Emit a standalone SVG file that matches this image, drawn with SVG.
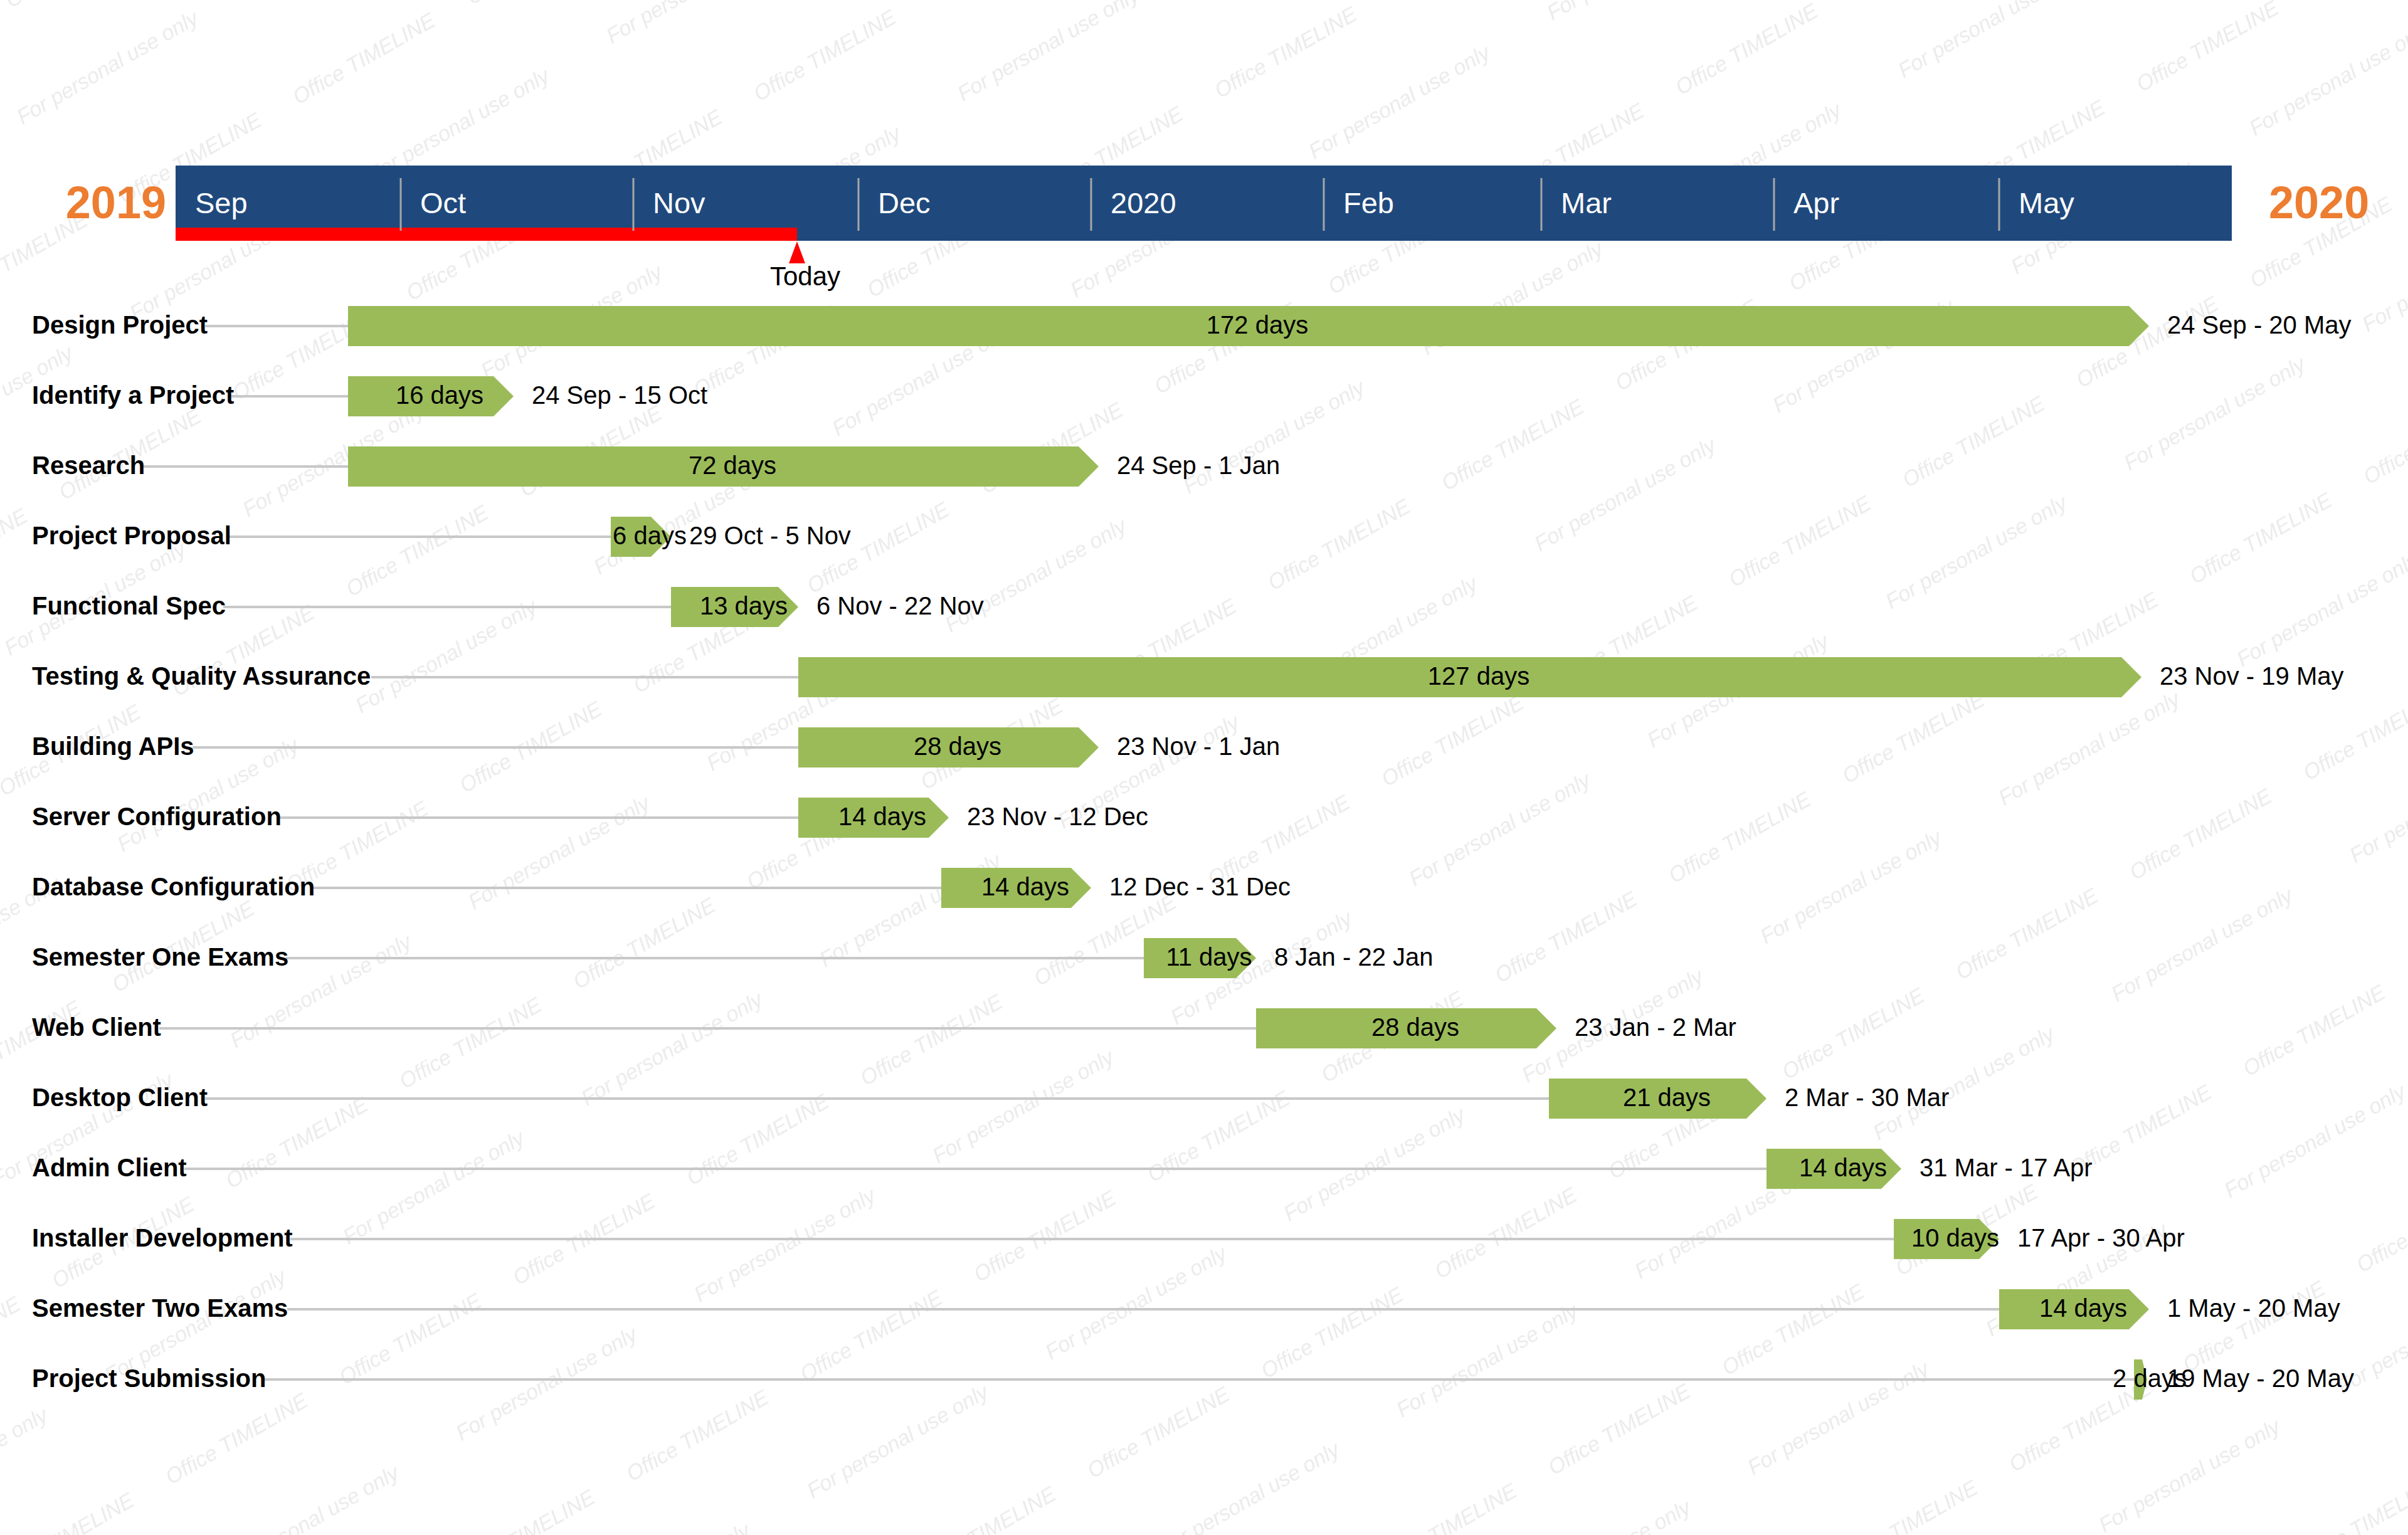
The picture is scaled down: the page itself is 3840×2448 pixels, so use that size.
<svg xmlns="http://www.w3.org/2000/svg" xmlns:xlink="http://www.w3.org/1999/xlink" width="3840" height="2448" viewBox="0 0 3840 2448">
<style>
.lbl{font-family:"Liberation Sans",Arial,sans-serif;font-weight:bold;font-size:40px;fill:#000}
.dur{font-family:"Liberation Sans",Arial,sans-serif;font-size:40px;fill:#000;text-anchor:middle}
.date{font-family:"Liberation Sans",Arial,sans-serif;font-size:40px;fill:#000}
.bar{fill:#9bbb59}
.conn{stroke:#c8c8c8;stroke-width:4}
.mon{font-family:"Liberation Sans",Arial,sans-serif;font-size:47px;fill:#fff}
.yr{font-family:"Liberation Sans",Arial,sans-serif;font-weight:bold;font-size:72px;fill:#ed7d31}
.sep{stroke:#a6a6a6;stroke-width:3}
.wm{font-family:"Liberation Sans",Arial,sans-serif;font-style:italic;font-size:34px;fill:#ebebeb;text-anchor:middle}
</style>
<defs>
<text id="wmA" class="wm" transform="rotate(-30)" y="12">Office TIMELINE</text>
<text id="wmB" class="wm" transform="rotate(-30)" y="12">For personal use only</text>
<pattern id="wmOffice" patternUnits="userSpaceOnUse" x="0" y="0" width="1000" height="1000" patternTransform="matrix(0.458 0.154 0.181 0.313 0 0)">
<g transform="matrix(2.7104 -1.3336 -1.5674 3.9661 0 0)">
<use href="#wmA" x="-336" y="-215"/><use href="#wmA" x="-155" y="98"/><use href="#wmA" x="26" y="411"/>
<use href="#wmA" x="122" y="-61"/><use href="#wmA" x="303" y="252"/><use href="#wmA" x="484" y="565"/>
<use href="#wmA" x="580" y="93"/><use href="#wmA" x="761" y="406"/><use href="#wmA" x="942" y="719"/>
</g>
</pattern>
<pattern id="wmPersonal" patternUnits="userSpaceOnUse" x="0" y="0" width="1000" height="1000" patternTransform="matrix(0.560 0.092 0.180 0.313 0 0)">
<g transform="matrix(1.97203 -0.57964 -1.13407 3.52823 0 0)">
<use href="#wmB" x="-569" y="-298"/><use href="#wmB" x="-389" y="15"/><use href="#wmB" x="-209" y="328"/>
<use href="#wmB" x="-9" y="-206"/><use href="#wmB" x="171" y="107"/><use href="#wmB" x="351" y="420"/>
<use href="#wmB" x="551" y="-114"/><use href="#wmB" x="731" y="199"/><use href="#wmB" x="911" y="512"/>
</g>
</pattern>
</defs>
<rect width="3840" height="2448" fill="#fff"/>
<g id="watermark">
<rect width="3840" height="2448" fill="url(#wmOffice)"/>
<rect width="3840" height="2448" fill="url(#wmPersonal)"/>
</g>

<g id="timescale">
<rect x="280" y="264" width="3279" height="120" fill="#1f497d"/>
<rect x="280" y="363" width="991" height="21" fill="#ff0000"/>
<line class="sep" x1="639" y1="284" x2="639" y2="368"/>
<line class="sep" x1="1010" y1="284" x2="1010" y2="368"/>
<line class="sep" x1="1369" y1="284" x2="1369" y2="368"/>
<line class="sep" x1="1740" y1="284" x2="1740" y2="368"/>
<line class="sep" x1="2111" y1="284" x2="2111" y2="368"/>
<line class="sep" x1="2458" y1="284" x2="2458" y2="368"/>
<line class="sep" x1="2829" y1="284" x2="2829" y2="368"/>
<line class="sep" x1="3188" y1="284" x2="3188" y2="368"/>
<text class="mon" x="311" y="340">Sep</text>
<text class="mon" x="670" y="340">Oct</text>
<text class="mon" x="1041" y="340">Nov</text>
<text class="mon" x="1400" y="340">Dec</text>
<text class="mon" x="1771" y="340">2020</text>
<text class="mon" x="2142" y="340">Feb</text>
<text class="mon" x="2489" y="340">Mar</text>
<text class="mon" x="2860" y="340">Apr</text>
<text class="mon" x="3219" y="340">May</text>
<text class="yr" x="265" y="348" text-anchor="end">2019</text>
<text class="yr" x="3618" y="348">2020</text>
</g>

<g id="today">
<polygon points="1271,385 1258,420 1284,420" fill="#ff0000"/>
<text x="1284" y="455" text-anchor="middle" font-family="Liberation Sans, Arial, sans-serif" font-size="42" fill="#000">Today</text>
</g>

<g id="connectors">
<line class="conn" x1="327" y1="520" x2="555" y2="520"/>
<line class="conn" x1="369" y1="632" x2="555" y2="632"/>
<line class="conn" x1="227" y1="744" x2="555" y2="744"/>
<line class="conn" x1="365" y1="856" x2="974" y2="856"/>
<line class="conn" x1="356" y1="968" x2="1070" y2="968"/>
<line class="conn" x1="592" y1="1080" x2="1273" y2="1080"/>
<line class="conn" x1="307" y1="1192" x2="1273" y2="1192"/>
<line class="conn" x1="445" y1="1304" x2="1273" y2="1304"/>
<line class="conn" x1="498" y1="1416" x2="1501" y2="1416"/>
<line class="conn" x1="456" y1="1528" x2="1824" y2="1528"/>
<line class="conn" x1="254" y1="1640" x2="2003" y2="1640"/>
<line class="conn" x1="327" y1="1752" x2="2470" y2="1752"/>
<line class="conn" x1="294" y1="1864" x2="2817" y2="1864"/>
<line class="conn" x1="463" y1="1976" x2="3020" y2="1976"/>
<line class="conn" x1="458" y1="2088" x2="3188" y2="2088"/>
<line class="conn" x1="420" y1="2200" x2="3403" y2="2200"/>
</g>

<g id="design-project">
<text class="lbl" x="51" y="532">Design Project</text>
<polygon class="bar" points="555,488 3395,488 3427,520 3395,552 555,552"/>
<text class="dur" x="2005" y="532">172 days</text>
<text class="date" x="3456" y="532">24 Sep - 20 May</text>
</g>
<g id="identify-a-project">
<text class="lbl" x="51" y="644">Identify a Project</text>
<polygon class="bar" points="555,600 787,600 819,632 787,664 555,664"/>
<text class="dur" x="701" y="644">16 days</text>
<text class="date" x="848" y="644">24 Sep - 15 Oct</text>
</g>
<g id="research">
<text class="lbl" x="51" y="756">Research</text>
<polygon class="bar" points="555,712 1720,712 1752,744 1720,776 555,776"/>
<text class="dur" x="1168" y="756">72 days</text>
<text class="date" x="1781" y="756">24 Sep - 1 Jan</text>
</g>
<g id="project-proposal">
<text class="lbl" x="51" y="868">Project Proposal</text>
<polygon class="bar" points="974,824 1038,824 1070,856 1038,888 974,888"/>
<text class="dur" x="1036" y="868">6 days</text>
<text class="date" x="1099" y="868">29 Oct - 5 Nov</text>
</g>
<g id="functional-spec">
<text class="lbl" x="51" y="980">Functional Spec</text>
<polygon class="bar" points="1070,936 1241,936 1273,968 1241,1000 1070,1000"/>
<text class="dur" x="1186" y="980">13 days</text>
<text class="date" x="1302" y="980">6 Nov - 22 Nov</text>
</g>
<g id="testing-qa">
<text class="lbl" x="51" y="1092">Testing &amp; Quality Assurance</text>
<polygon class="bar" points="1273,1048 3383,1048 3415,1080 3383,1112 1273,1112"/>
<text class="dur" x="2358" y="1092">127 days</text>
<text class="date" x="3444" y="1092">23 Nov - 19 May</text>
</g>
<g id="building-apis">
<text class="lbl" x="51" y="1204">Building APIs</text>
<polygon class="bar" points="1273,1160 1720,1160 1752,1192 1720,1224 1273,1224"/>
<text class="dur" x="1527" y="1204">28 days</text>
<text class="date" x="1781" y="1204">23 Nov - 1 Jan</text>
</g>
<g id="server-configuration">
<text class="lbl" x="51" y="1316">Server Configuration</text>
<polygon class="bar" points="1273,1272 1481,1272 1513,1304 1481,1336 1273,1336"/>
<text class="dur" x="1407" y="1316">14 days</text>
<text class="date" x="1542" y="1316">23 Nov - 12 Dec</text>
</g>
<g id="database-configuration">
<text class="lbl" x="51" y="1428">Database Configuration</text>
<polygon class="bar" points="1501,1384 1708,1384 1740,1416 1708,1448 1501,1448"/>
<text class="dur" x="1635" y="1428">14 days</text>
<text class="date" x="1769" y="1428">12 Dec - 31 Dec</text>
</g>
<g id="semester-one-exams">
<text class="lbl" x="51" y="1540">Semester One Exams</text>
<polygon class="bar" points="1824,1496 1971,1496 2003,1528 1971,1560 1824,1560"/>
<text class="dur" x="1928" y="1540">11 days</text>
<text class="date" x="2032" y="1540">8 Jan - 22 Jan</text>
</g>
<g id="web-client">
<text class="lbl" x="51" y="1652">Web Client</text>
<polygon class="bar" points="2003,1608 2450,1608 2482,1640 2450,1672 2003,1672"/>
<text class="dur" x="2257" y="1652">28 days</text>
<text class="date" x="2511" y="1652">23 Jan - 2 Mar</text>
</g>
<g id="desktop-client">
<text class="lbl" x="51" y="1764">Desktop Client</text>
<polygon class="bar" points="2470,1720 2785,1720 2817,1752 2785,1784 2470,1784"/>
<text class="dur" x="2658" y="1764">21 days</text>
<text class="date" x="2846" y="1764">2 Mar - 30 Mar</text>
</g>
<g id="admin-client">
<text class="lbl" x="51" y="1876">Admin Client</text>
<polygon class="bar" points="2817,1832 3000,1832 3032,1864 3000,1896 2817,1896"/>
<text class="dur" x="2939" y="1876">14 days</text>
<text class="date" x="3061" y="1876">31 Mar - 17 Apr</text>
</g>
<g id="installer-development">
<text class="lbl" x="51" y="1988">Installer Development</text>
<polygon class="bar" points="3020,1944 3156,1944 3188,1976 3156,2008 3020,2008"/>
<text class="dur" x="3118" y="1988">10 days</text>
<text class="date" x="3217" y="1988">17 Apr - 30 Apr</text>
</g>
<g id="semester-two-exams">
<text class="lbl" x="51" y="2100">Semester Two Exams</text>
<polygon class="bar" points="3188,2056 3395,2056 3427,2088 3395,2120 3188,2120"/>
<text class="dur" x="3322" y="2100">14 days</text>
<text class="date" x="3456" y="2100">1 May - 20 May</text>
</g>
<g id="project-submission">
<text class="lbl" x="51" y="2212">Project Submission</text>
<polygon class="bar" points="3403,2168 3416,2168 3424,2200 3416,2232 3403,2232"/>
<text class="dur" x="3428" y="2212">2 days</text>
<text class="date" x="3456" y="2212">19 May - 20 May</text>
</g>
</svg>
